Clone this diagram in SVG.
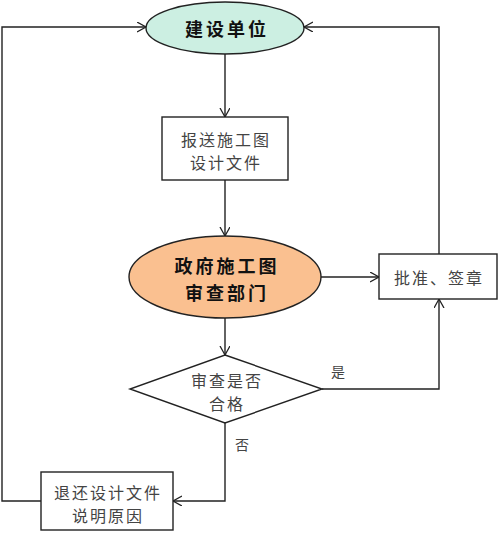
<svg xmlns="http://www.w3.org/2000/svg" width="500" height="536" viewBox="0 0 500 536">
<defs>
<marker id="arr" markerUnits="userSpaceOnUse" markerWidth="12" markerHeight="12" refX="9" refY="5" orient="auto" viewBox="0 0 12 12">
<path d="M0,0 L9,5 L0,10" fill="none" stroke="#222" stroke-width="1.3"/>
</marker>
</defs>
<style>
.shape{stroke:#222;stroke-width:1.4}
.box{fill:#fff}
.t{font-family:"Noto Sans CJK SC","Noto Sans",sans-serif;font-size:16px;fill:#444;text-anchor:middle;dominant-baseline:central;letter-spacing:2px}
.b{font-family:"Noto Sans CJK SC","Noto Sans",sans-serif;font-size:18px;font-weight:bold;fill:#111;text-anchor:middle;dominant-baseline:central;letter-spacing:3px}
.c{fill:none;stroke:#222;stroke-width:1.4;marker-end:url(#arr)}
</style>
<rect width="500" height="536" fill="#fff"/>
<g id="connectors">
<path class="c" d="M225 54 V117"/>
<path class="c" d="M225 180 V236"/>
<path class="c" d="M225 317 V355"/>
<path class="c" d="M321 277 H379"/>
<path class="c" d="M322 389 H439 V299"/>
<path class="c" d="M439 254 V27 H304"/>
<path class="c" d="M225 423 V501 H173"/>
<path class="c" d="M41 501 H2 V27 H146"/>
</g>
<g id="n1">
<ellipse class="shape" cx="225" cy="28" rx="79" ry="26" fill="#ccefe2"/>
<text class="b" x="227" y="28">建设单位</text>
</g>
<g id="n2">
<rect class="shape box" x="162" y="117" width="126" height="63"/>
<text class="t" x="226" y="139">报送施工图</text>
<text class="t" x="226" y="162">设计文件</text>
</g>
<g id="n3">
<ellipse class="shape" cx="225" cy="277" rx="96" ry="41" fill="#fac090"/>
<text class="b" x="227" y="265">政府施工图</text>
<text class="b" x="227" y="292">审查部门</text>
</g>
<g id="n4">
<rect class="shape box" x="379" y="254" width="118" height="45"/>
<text class="t" x="439" y="277">批准、签章</text>
</g>
<g id="n5">
<polygon class="shape box" points="225,355 322,389 225,423 130,389"/>
<text class="t" x="227" y="380">审查是否</text>
<text class="t" x="227" y="403">合格</text>
</g>
<g id="n6">
<rect class="shape box" x="41" y="472" width="132" height="58"/>
<text class="t" x="108" y="492">退还设计文件</text>
<text class="t" x="108" y="515">说明原因</text>
</g>
<g id="labels">
<text class="t" x="339" y="371" style="font-size:14px">是</text>
<text class="t" x="243" y="444" style="font-size:14px">否</text>
</g>
</svg>
